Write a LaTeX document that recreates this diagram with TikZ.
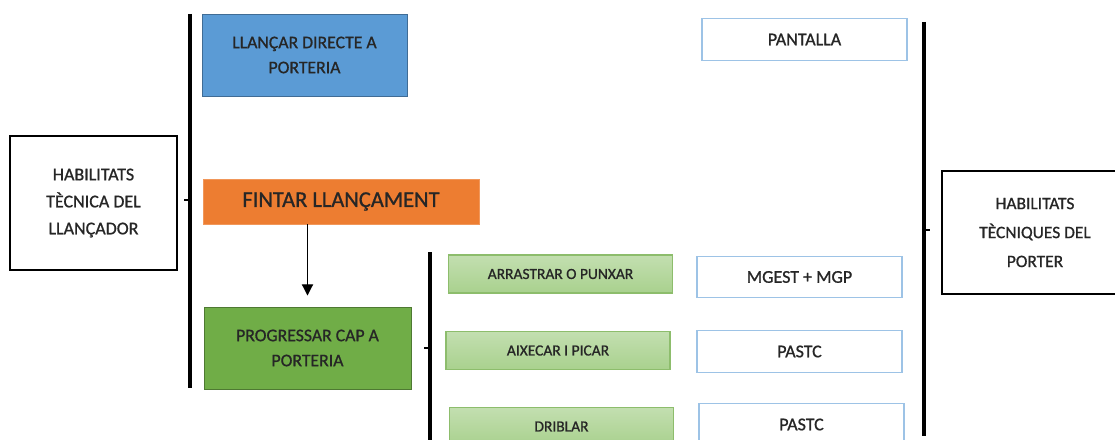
\documentclass[tikz,border=0pt]{standalone}
\usepackage{fontspec}
\setmainfont{Carlito}
\newfontfamily\heavy{Carlito}[FakeBold=0.9]
\usepackage{tikz}
\usetikzlibrary{arrows.meta}

\definecolor{boxblue}{HTML}{5B9BD5}
\definecolor{boxorange}{HTML}{ED7D31}
\definecolor{boxgreen}{HTML}{70AD47}
\definecolor{lightgreen}{HTML}{A9D18E}
\definecolor{paleblue}{HTML}{9DC3E6}
\definecolor{inkgrey}{HTML}{262626}

\begin{document}
\begin{tikzpicture}[
    every node/.style={text=inkgrey},
    habbox/.style={draw=black, thick, fill=white, align=center},
    actbox/.style={align=center, font=\heavy\fontsize{12.6}{17.8}\selectfont},
    subbox/.style={draw=boxgreen!80, thick, top color=lightgreen!70, bottom color=lightgreen,
        font=\heavy\fontsize{11}{13}\selectfont, minimum width=5.6cm, minimum height=0.95cm},
    resbox/.style={draw=paleblue, thick, fill=white, font=\heavy\fontsize{12.8}{15}\selectfont,
        minimum width=5.125cm, minimum height=1.03cm},
    bar/.style={line width=3.5pt}
]
    \useasboundingbox (0, 0) rectangle (27.875, -11);
    \clip (0, 0) rectangle (27.875, -11);

    % Brackets
    \draw[bar] (4.75, -0.35) -- (4.75, -9.7);
    \draw[thick] (4.75, -5.0) -- (4.6, -5.0);
    \draw[bar] (10.75, -6.3) -- (10.75, -11.2);
    \draw[thick] (10.75, -8.7) -- (10.6, -8.7);
    \draw[bar] (23.1, -0.55) -- (23.1, -10.9);
    \draw[thick] (23.1, -5.75) -- (23.25, -5.75);

    % Skills of the shooter
    \node[habbox, font=\heavy\fontsize{12.8}{19.2}\selectfont, minimum width=4.175cm, minimum height=3.35cm]
        (llancador) at (2.3375, -5.075) {HABILITATS\\TÈCNICA DEL\\LLANÇADOR};
    \node[actbox, draw=boxblue!70!black, fill=boxblue, minimum width=5.125cm, minimum height=2.05cm]
        (directe) at (7.6125, -1.375) {LLANÇAR DIRECTE A\\PORTERIA};
    \node[draw=boxorange!80, fill=boxorange, font=\heavy\fontsize{16}{19}\selectfont,
        minimum width=6.9cm, minimum height=1.125cm] (fintar) at (8.525, -5.0375) {FINTAR LLANÇAMENT};
    \node[actbox, draw=boxgreen!70!black, fill=boxgreen, minimum width=5.175cm, minimum height=2.05cm]
        (progressar) at (7.6875, -8.7) {PROGRESSAR CAP A\\PORTERIA};
    \draw[thick, -{Triangle[length=8pt, width=8pt]}, shorten >=0.28cm] (progressar |- fintar.south) -- (progressar.north);

    % Ways of progressing
    \node[subbox] (arrastrar) at (14.0125, -6.85) {ARRASTRAR O PUNXAR};
    \node[subbox] (aixecar) at (13.95, -8.7625) {AIXECAR I PICAR};
    \node[subbox] (driblar) at (14.0375, -10.6625) {DRIBLAR};

    % Goalkeeper responses
    \node[resbox] (pantalla) at (20.1125, -0.9875) {PANTALLA};
    \node[resbox] (mgest) at (19.9875, -6.925) {MGEST + MGP};
    \node[resbox] (pastca) at (19.9875, -8.7875) {PASTC};
    \node[resbox] (pastcb) at (20.0375, -10.6125) {PASTC};

    % Skills of the goalkeeper
    \node[habbox, font=\heavy\fontsize{12.4}{20.6}\selectfont, minimum width=4.65cm, minimum height=3.075cm]
        (porter) at (25.875, -5.8125) {HABILITATS\\TÈCNIQUES DEL\\PORTER};
\end{tikzpicture}
\end{document}
